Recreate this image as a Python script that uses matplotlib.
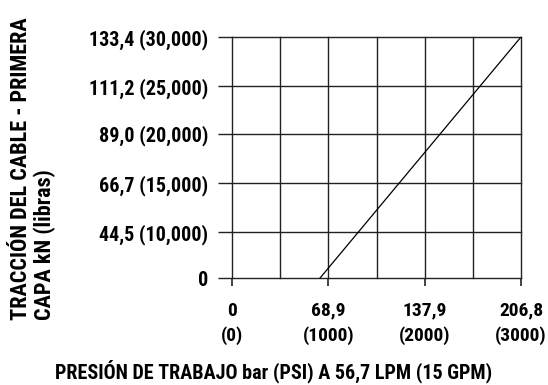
import numpy as np
import matplotlib
matplotlib.use('Agg')
import matplotlib.pyplot as plt

plt.rcParams['font.family'] = ['Roboto Condensed', 'DejaVu Sans']
plt.rcParams['font.weight'] = 'black'

# pull vs working pressure
pressure_bar = [63.0, 206.8]
pull_kn = [0.0, 133.4]

x_ticks = [0, 68.9, 137.9, 206.8]
x_labels = ['0\n(0)', '68,9\n(1000)', '137,9\n(2000)', '206,8\n(3000)']
x_grid = [34.47, 103.4, 172.3]

y_ticks = [0, 44.5, 66.7, 89.0, 111.2, 133.4]
y_labels = ['0', '44,5 (10,000)', '66,7 (15,000)', '89,0 (20,000)',
            '111,2 (25,000)', '133,4 (30,000)']
# spacing of the rows on the printed scale
y_slots = [0, 0.191, 0.394, 0.598, 0.797, 1.0]


def fwd(v):
    return np.interp(v, y_ticks, y_slots, left=-1, right=2)


def inv(v):
    return np.interp(v, y_slots, y_ticks)


fig = plt.figure(figsize=(5.48, 3.85), dpi=100)
ax = fig.add_axes([0.4234, 0.2779, 0.5273, 0.626])
ax.set_yscale('function', functions=(fwd, inv))
ax.set_xlim(0, 206.8)
ax.set_ylim(0, 133.4)

for xv in x_grid + x_ticks:
    ax.axvline(xv, color='#222222', lw=1.0, zorder=1, clip_on=False)
for yv in y_ticks:
    ax.axhline(yv, color='#222222', lw=1.0, zorder=1, clip_on=False)

ax.plot(pressure_bar, pull_kn, color='black', lw=0.9, zorder=3)

for s in ax.spines.values():
    s.set_visible(False)

ax.set_xticks(x_ticks)
ax.set_xticklabels(x_labels, fontsize=14, linespacing=1.45)
ax.set_yticks(y_ticks)
ax.set_yticklabels(y_labels, fontsize=14.5)
ax.yaxis.set_minor_locator(matplotlib.ticker.NullLocator())
ax.tick_params(axis='x', direction='out', length=6, width=1.2, pad=11, color='#222222')
ax.tick_params(axis='y', direction='out', length=10, width=1.0, pad=7, color='#222222')

fig.text(0.5, 0.036, 'PRESIÓN DE TRABAJO bar (PSI) A 56,7 LPM (15 GPM)',
         ha='center', va='center', fontsize=14.5)
fig.text(0.018, 0.169, 'TRACCIÓN DEL CABLE - PRIMERA\nCAPA kN (libras)',
         rotation=90, ha='left', va='bottom', multialignment='left',
         fontsize=16, linespacing=1.1)

fig.savefig('out.png', dpi=100)
